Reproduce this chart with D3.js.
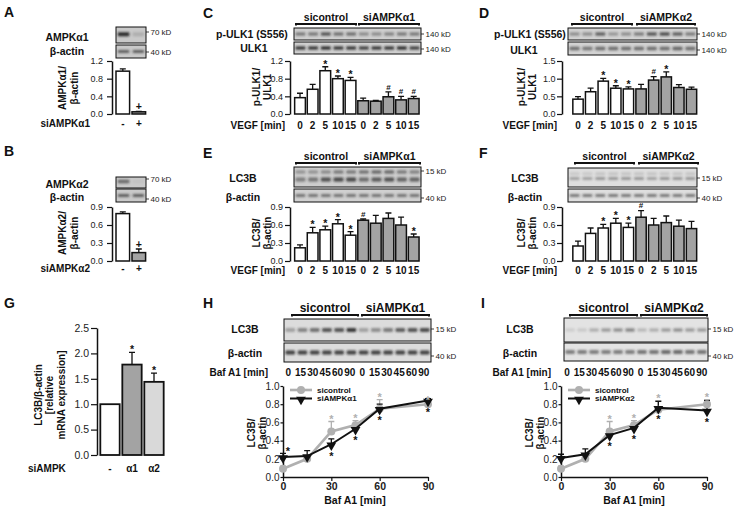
<!DOCTYPE html>
<html><head><meta charset="utf-8">
<script src="https://cdn.jsdelivr.net/npm/d3@7"></script>
<style>
body{margin:0;background:#fff}
svg{font-family:"Liberation Sans",Arial,Helvetica,sans-serif;display:block}
</style></head><body>
<svg id="c" width="740" height="508"></svg>
<script>
// ---------------- data ----------------
const vegfLanes = ["0","2","5","10","15","0","2","5","10","15"];
const bafLanes  = ["0","15","30","45","60","90","0","15","30","45","60","90"];
const aCats = ["-","+"], aVals = [0.97,0.05], aErr = [0.05,0.01], aMarks = ["","+"];
const bCats = ["-","+"], bVals = [0.79,0.14], bErr = [0.03,0.06], bMarks = ["","+"];
const cVals = [0.37,0.56,0.98,0.80,0.76,0.30,0.29,0.39,0.32,0.35];
const cErr  = [0.10,0.11,0.09,0.06,0.07,0.06,0.02,0.11,0.08,0.05];
const cMarks= ["","","*","*","*","","","#","#","#"];
const dVals = [0.42,0.63,0.93,0.73,0.71,0.71,0.96,1.05,0.75,0.70];
const dErr  = [0.07,0.10,0.08,0.07,0.06,0.13,0.10,0.14,0.08,0.06];
const dMarks= ["","","*","*","*","","#","*","",""];
const eVals = [0.22,0.47,0.52,0.62,0.43,0.68,0.63,0.71,0.60,0.40];
const eErr  = [0.05,0.09,0.06,0.07,0.06,0.02,0.13,0.09,0.13,0.05];
const eMarks= ["","*","*","*","*","#","","","","*"];
const fVals = [0.25,0.46,0.55,0.63,0.56,0.73,0.60,0.64,0.58,0.54];
const fErr  = [0.08,0.09,0.06,0.08,0.07,0.11,0.11,0.11,0.10,0.12];
const fMarks= ["","","*","*","*","#","","","",""];
const gCats = ["-","α1","α2"], gVals = [1.0,1.78,1.44], gErr = [0,0.24,0.17], gMarks = ["","*","*"];
const bafTimes = [0,15,30,45,60,90];
const hCtrl = [0.09,0.20,0.50,0.57,0.75,0.80], hCtrlErr = [0.03,0.03,0.11,0.05,0.10,0.02];
const hKd   = [0.22,0.23,0.36,0.53,0.75,0.84], hKdErr   = [0.04,0.06,0.06,0.03,0.05,0.02];
const hCtrlStars = ["","","up","up","up","up"], hKdStars = ["up","","down","down","down","down"];
const iCtrl = [0.09,0.20,0.50,0.57,0.74,0.80], iCtrlErr = [0.03,0.03,0.11,0.05,0.10,0.05];
const iKd   = [0.21,0.25,0.46,0.54,0.76,0.73], iKdErr   = [0.04,0.06,0.04,0.05,0.07,0.11];
const iCtrlStars = ["","","up","up","up","up"], iKdStars = ["","","down","down","down","down"];
// blot band intensities (per lane)
const aBand1 = [0.9,0.15], aBand2 = [0.6,0.6];
const bBand1 = [0.55,0.04], bBand2 = [0.6,0.6];
const cBand1 = [0.45,0.45,0.65,0.5,0.5,0.35,0.35,0.4,0.45,0.45];
const cBand2 = [0.8,0.8,0.85,0.8,0.8,0.75,0.8,0.8,0.85,0.75];
const dBand1 = [0.35,0.35,0.6,0.3,0.35,0.45,0.65,0.7,0.6,0.45];
const dBand2 = [0.55,0.5,0.55,0.55,0.55,0.55,0.55,0.55,0.6,0.55];
const eBandI = [0.35,0.35,0.4,0.5,0.5,0.55,0.6,0.6,0.5,0.45];
const eBandII= [0.45,0.5,0.7,0.75,0.75,0.55,0.65,0.7,0.6,0.6];
const eBand2 = [0.5,0.5,0.5,0.5,0.5,0.5,0.5,0.5,0.5,0.5];
const fBandI = [0.12,0.12,0.15,0.15,0.15,0.15,0.15,0.15,0.15,0.15];
const fBandII= [0.3,0.3,0.35,0.35,0.35,0.35,0.3,0.35,0.35,0.35];
const fBand2 = [0.5,0.5,0.5,0.5,0.5,0.5,0.5,0.5,0.5,0.5];
const hBand1 = [0.3,0.45,0.55,0.7,0.7,0.85,0.3,0.4,0.5,0.65,0.7,0.75];
const hBand2 = [0.8,0.8,0.8,0.8,0.8,0.8,0.8,0.8,0.8,0.8,0.8,0.8];
const iBand1 = [0.1,0.12,0.25,0.35,0.4,0.45,0.2,0.25,0.35,0.4,0.35,0.35];
const iBand2 = [0.5,0.5,0.5,0.5,0.5,0.5,0.55,0.55,0.6,0.6,0.55,0.55];

// ---------------- helpers ----------------
const FONT = '"Liberation Sans", Arial, Helvetica, sans-serif';
const GREY = "#a3a3a3", LGREY = "#d9d9d9", LINEGREY = "#b0b0b0";
const svg = d3.select("#c");
svg.append("filter").attr("id","blur").attr("x","-50%").attr("y","-100%").attr("width","200%").attr("height","300%")
  .append("feGaussianBlur").attr("stdDeviation","0.9");

function txt(t,x,y,o={}){
  return svg.append("text").attr("x",x).attr("y",y)
    .attr("font-size",o.fs||10.5).attr("font-weight",o.w||"bold")
    .attr("text-anchor",o.a||"middle").attr("fill",o.fill||"#111")
    .attr("dominant-baseline",o.db||"auto").text(t);
}
function letter(t,x,y){ txt(t,x,y,{fs:14,a:"start"}); }
function vtext(lines,xs,yc,fs){
  lines.forEach((l,i)=>{
    svg.append("text").attr("transform",`translate(${xs[i]},${yc}) rotate(-90)`)
      .attr("text-anchor","middle").attr("dominant-baseline","central")
      .attr("font-size",fs||10).attr("font-weight","bold").attr("fill","#111").text(l);
  });
}
function blot(x0,x1,y0,y1,bg,rows){
  const g = svg.append("g");
  g.append("rect").attr("x",x0).attr("y",y0).attr("width",x1-x0).attr("height",y1-y0)
    .attr("fill",bg).attr("stroke","#111").attr("stroke-width",1);
  rows.forEach(r=>{
    const xb = d3.scaleBand().domain(d3.range(r.vals.length)).range([x0,x1]).paddingInner(0.22).paddingOuter(0.12);
    g.selectAll(null).data(r.vals).join("rect")
      .attr("x",(d,i)=>xb(i)).attr("width",xb.bandwidth())
      .attr("y",y0+(y1-y0)*r.cy-r.h/2).attr("height",r.h).attr("rx",1.2)
      .attr("fill","#1a1a1a").attr("opacity",d=>d).attr("filter","url(#blur)");
  });
}
function kd(x,y,t){
  svg.append("line").attr("x1",x).attr("x2",x+3).attr("y1",y).attr("y2",y).attr("stroke","#111").attr("stroke-width",0.8);
  txt(t,x+4.5,y,{fs:8,w:"normal",a:"start",db:"central",fill:"#222"});
}
function groups(xa0,xa1,xb0,xb1,yl,ta,tb,fs){
  [[xa0,xa1,ta],[xb0,xb1,tb]].forEach(([a,b,t])=>{
    svg.append("path").attr("d",`M${a},${yl+1.5}V${yl}H${b}V${yl+1.5}`).attr("fill","none").attr("stroke","#111").attr("stroke-width",2);
    txt(t,(a+b)/2,yl-3.5,{fs:fs||10.5});
  });
}
const markK = {"*":0.57,"#":0.36,"+":0.34};
function mark(t,x,cy,fs,fill){
  txt(t,x,cy+markK[t]*fs,{fs:fs,fill:fill||"#111"});
}
function styleAxis(ax,fs,w){
  ax.attr("font-family",FONT);
  ax.select(".domain").attr("stroke","#111").attr("stroke-width",1.5);
  ax.selectAll(".tick line").attr("stroke","#111").attr("stroke-width",1.2);
  ax.selectAll(".tick text").attr("font-size",fs).attr("fill","#222").attr("font-weight",w||"normal");
}
function barChart(o){
  const y = d3.scaleLinear().domain([0,o.max]).range([o.y0,o.y1]);
  const x = d3.scaleBand().domain(d3.range(o.vals.length)).range([o.bx0,o.bx1]).paddingInner(o.pad).paddingOuter(o.pad/2);
  const g = svg.append("g");
  const ax = g.append("g").attr("transform",`translate(${o.ax},0)`)
    .call(d3.axisLeft(y).tickValues(o.ticks).tickFormat(d3.format(".1f")).tickSize(o.ts).tickSizeOuter(0).tickPadding(o.tp));
  styleAxis(ax,o.fs||9);
  g.selectAll(".err").data(o.vals).join("path").attr("class","err")
    .attr("d",(d,i)=>{ if(!o.errs[i]) return null; const cx=x(i)+x.bandwidth()/2, t=y(d+o.errs[i]);
      return `M${cx},${y(d)}V${t}M${cx-3},${t}H${cx+3}`; })
    .attr("fill","none").attr("stroke","#111").attr("stroke-width",1.3);
  g.selectAll(".bar").data(o.vals).join("rect").attr("class","bar")
    .attr("x",(d,i)=>x(i)).attr("width",x.bandwidth())
    .attr("y",d=>y(d)).attr("height",d=>o.y0-y(d))
    .attr("fill",(d,i)=>o.colors[i]).attr("stroke","#111").attr("stroke-width",o.sw||1.5);
  o.marks.forEach((m,i)=>{ if(m) mark(m,x(i)+x.bandwidth()/2,y(o.vals[i]+o.errs[i])-5,m==="#"?8:10.5); });
  o.cats.forEach((c,i)=>txt(c,x(i)+x.bandwidth()/2,o.catY,{fs:10}));
  return {x,y};
}
function lineChart(o){
  const x = d3.scaleLinear().domain([0,90]).range([o.x0,o.x1]);
  const y = d3.scaleLinear().domain([0,1]).range([o.y0,o.y1]);
  const g = svg.append("g");
  const ay = g.append("g").attr("transform",`translate(${o.x0},0)`)
    .call(d3.axisLeft(y).tickValues([0,0.2,0.4,0.6,0.8,1.0]).tickFormat(d3.format(".1f")).tickSize(2.5).tickSizeOuter(0).tickPadding(1));
  styleAxis(ay,10);
  const axx = g.append("g").attr("transform",`translate(0,${o.y0})`)
    .call(d3.axisBottom(x).tickValues([0,30,60,90]).tickSize(4).tickSizeOuter(0).tickPadding(2));
  styleAxis(axx,10.5,"bold");
  const series = [
    {v:o.ctrl,e:o.ctrlErr,c:LINEGREY,w:2.6,stars:o.ctrlStars,kind:"circle"},
    {v:o.kd,e:o.kdErr,c:"#111",w:2,stars:o.kdStars,kind:"tri"}
  ];
  series.forEach(s=>{
    g.selectAll(null).data(s.v).join("path")
      .attr("d",(d,i)=>{ const cx=x(bafTimes[i]), t=y(d+s.e[i]); return `M${cx},${y(d)}V${t}M${cx-3},${t}H${cx+3}`; })
      .attr("fill","none").attr("stroke",s.c).attr("stroke-width",1.3);
  });
  series.forEach(s=>{
    const line = d3.line().x((d,i)=>x(bafTimes[i])).y(d=>y(d));
    g.append("path").datum(s.v).attr("d",line).attr("fill","none").attr("stroke",s.c).attr("stroke-width",s.w);
    if(s.kind==="circle"){
      g.selectAll(null).data(s.v).join("circle").attr("cx",(d,i)=>x(bafTimes[i])).attr("cy",d=>y(d)).attr("r",4).attr("fill",s.c);
    } else {
      const sym = d3.symbol(d3.symbolTriangle,42);
      g.selectAll(null).data(s.v).join("path").attr("d",sym)
        .attr("transform",(d,i)=>`translate(${x(bafTimes[i])},${y(d)+1}) rotate(180)`).attr("fill",s.c);
    }
  });
  series.forEach(s=>{
    s.stars.forEach((st,i)=>{
      if(st==="up") mark("*",x(bafTimes[i])+(s.kind==="tri"?5:0),y(s.v[i]+s.e[i])-5,11,s.kind==="tri"?"#111":LINEGREY);
      if(st==="down") mark("*",x(bafTimes[i]),y(s.v[i])+9,11,"#111");
    });
  });
  // legend
  const L = [{t:"sicontrol",c:LINEGREY,w:2.6,k:"circle",yy:o.ly},{t:o.kdName,c:"#111",w:2,k:"tri",yy:o.ly+8.5}];
  L.forEach(l=>{
    g.append("line").attr("x1",o.lx).attr("x2",o.lx+22).attr("y1",l.yy).attr("y2",l.yy).attr("stroke",l.c).attr("stroke-width",l.w);
    if(l.k==="circle") g.append("circle").attr("cx",o.lx+11).attr("cy",l.yy).attr("r",4).attr("fill",l.c);
    else g.append("path").attr("d",d3.symbol(d3.symbolTriangle,42)).attr("transform",`translate(${o.lx+11},${l.yy+1}) rotate(180)`).attr("fill",l.c);
    txt(l.t,o.lx+27,l.yy+2.9,{a:"start",fs:8});
  });
}
const twoCol = (n,k,a,b)=>d3.range(n).map(i=>i<k?a:b);

// ---------------- Panel A ----------------
letter("A",4,17);
blot(116,146,27,43,"#c9c9c9",[{vals:aBand1,cy:0.45,h:4}]);
blot(116,146,45,58,"#c9c9c9",[{vals:aBand2,cy:0.5,h:3}]);
kd(146,32,"70 kD"); kd(146,52,"40 kD");
txt("AMPKα1",67,41); txt("β-actin",67,55);
vtext(["AMPKα1/","β-actin"],[62,74],88);
barChart({ax:112,y0:114,y1:61,max:1.2,ticks:[0,0.4,0.8,1.2],ts:5,tp:4,bx0:114.8,bx1:146.8,pad:0.15,
  vals:aVals,errs:aErr,marks:aMarks,colors:["#fff",GREY],cats:aCats,catY:127});
txt("siAMPKα1",90,127,{a:"end",fs:10});

// ---------------- Panel B ----------------
letter("B",4,156);
blot(116,146,177,188,"#c9c9c9",[{vals:bBand1,cy:0.4,h:3.5}]);
blot(116,146,189,202,"#c9c9c9",[{vals:bBand2,cy:0.5,h:3}]);
kd(146,179,"70 kD"); kd(146,199,"40 kD");
txt("AMPKα2",67,188); txt("β-actin",67,201);
vtext(["AMPKα2/","β-actin"],[62,74],233);
barChart({ax:112,y0:261,y1:207,max:0.9,ticks:[0,0.3,0.6,0.9],ts:5,tp:4,bx0:114.8,bx1:146.8,pad:0.15,
  vals:bVals,errs:bErr,marks:bMarks,colors:["#fff",GREY],cats:bCats,catY:272});
txt("siAMPKα2",90,272,{a:"end",fs:10});

// ---------------- Panel C ----------------
letter("C",203,18);
groups(296,356,359,419,24,"sicontrol","siAMPKα1");
blot(294,421,28,40,"#cfcfcf",[{vals:cBand1,cy:0.5,h:3.5}]);
blot(294,421,42,54,"#cfcfcf",[{vals:cBand2,cy:0.5,h:3.5}]);
kd(421,34,"140 kD"); kd(421,49,"140 kD");
txt("p-ULK1 (S556)",252,38); txt("ULK1",254,52);
vtext(["p-ULK1/","ULK1"],[256,267],87);
barChart({ax:290,y0:114,y1:61,max:1.2,ticks:[0,0.4,0.8,1.2],ts:5,tp:2,bx0:293.7,bx1:420,pad:0.15,
  vals:cVals,errs:cErr,marks:cMarks,colors:twoCol(10,5,"#fff",GREY),cats:vegfLanes,catY:129});
txt("VEGF [min]",285,129,{a:"end",fs:10});

// ---------------- Panel D ----------------
letter("D",479,18);
groups(572,632,637,695,24,"sicontrol","siAMPKα2");
blot(568,697,28,40,"#d2d2d2",[{vals:dBand1,cy:0.5,h:3.5}]);
blot(568,697,42,55,"#d2d2d2",[{vals:dBand2,cy:0.5,h:3.5}]);
kd(697,34,"140 kD"); kd(697,50,"140 kD");
txt("p-ULK1 (S556)",530,38); txt("ULK1",524,54);
vtext(["p-ULK1/","ULK1"],[521,532],87);
barChart({ax:562,y0:114,y1:61,max:1.5,ticks:[0,0.5,1.0,1.5],ts:5,tp:1.5,bx0:571.7,bx1:697.8,pad:0.18,
  vals:dVals,errs:dErr,marks:dMarks,colors:twoCol(10,5,"#fff",GREY),cats:vegfLanes,catY:129});
txt("VEGF [min]",557,129,{a:"end",fs:10});

// ---------------- Panel E ----------------
letter("E",203,158);
groups(296,356,359,420,163,"sicontrol","siAMPKα1");
blot(294,421,167,187,"#cdcdcd",[{vals:eBandI,cy:0.25,h:3},{vals:eBandII,cy:0.62,h:4}]);
blot(294,421,189,202,"#d0d0d0",[{vals:eBand2,cy:0.5,h:3}]);
kd(421,171,"15 kD"); kd(421,198,"40 kD");
txt("LC3B",243,182); txt("β-actin",243,201);
vtext(["LC3B/","β-actin"],[256,267],233);
barChart({ax:290,y0:261,y1:207,max:0.9,ticks:[0,0.3,0.6,0.9],ts:5,tp:2,bx0:293.7,bx1:420,pad:0.15,
  vals:eVals,errs:eErr,marks:eMarks,colors:twoCol(10,5,"#fff",GREY),cats:vegfLanes,catY:274});
txt("VEGF [min]",285,274,{a:"end",fs:10});

// ---------------- Panel F ----------------
letter("F",479,158);
groups(575,634,639,698,163,"sicontrol","siAMPKα2");
blot(568,697,168,187,"#dedede",[{vals:fBandI,cy:0.3,h:2.5},{vals:fBandII,cy:0.55,h:3}]);
blot(568,697,189,202,"#dedede",[{vals:fBand2,cy:0.5,h:3}]);
kd(697,178,"15 kD"); kd(697,198,"40 kD");
txt("LC3B",525,182); txt("β-actin",525,201);
vtext(["LC3B/","β-actin"],[521,532],233);
barChart({ax:562,y0:261,y1:207,max:0.9,ticks:[0,0.3,0.6,0.9],ts:5,tp:1.5,bx0:571.7,bx1:697.8,pad:0.18,
  vals:fVals,errs:fErr,marks:fMarks,colors:twoCol(10,5,"#fff",GREY),cats:vegfLanes,catY:274});
txt("VEGF [min]",557,274,{a:"end",fs:10});

// ---------------- Panel G ----------------
letter("G",4,308);
vtext(["LC3B/β-actin","[relative","mRNA expression]"],[38,49.5,61],395,10);
barChart({ax:97,y0:455,y1:328,max:2.5,ticks:[0,0.5,1.0,1.5,2.0,2.5],ts:6,tp:2,bx0:99,bx1:165,pad:0.12,sw:1.8,fs:10.5,
  vals:gVals,errs:gErr,marks:gMarks,colors:["#fff",GREY,LGREY],cats:gCats,catY:472});
txt("siAMPK",28,472,{a:"start",fs:10});

// ---------------- Panel H ----------------
letter("H",203,308);
groups(292,358,362,429,315,"sicontrol","siAMPKα1",12);
blot(284,431,319,341,"#dcdcdc",[{vals:hBand1,cy:0.5,h:4}]);
blot(284,431,343,362,"#dcdcdc",[{vals:hBand2,cy:0.5,h:4}]);
kd(431,329,"15 kD"); kd(431,356,"40 kD");
txt("LC3B",245,333); txt("β-actin",245,357);
{
  const lx = d3.scaleBand().domain(d3.range(12)).range([282,430]);
  bafLanes.forEach((l,i)=>txt(l,lx(i)+lx.bandwidth()/2,376,{fs:10}));
}
txt("Baf A1 [min]",268,376,{a:"end",fs:10});
vtext(["LC3B/","β-actin"],[251,262],433);
lineChart({x0:283,x1:428,y0:477,y1:386,ctrl:hCtrl,ctrlErr:hCtrlErr,kd:hKd,kdErr:hKdErr,
  ctrlStars:hCtrlStars,kdStars:hKdStars,kdName:"siAMPKα1",lx:290,ly:390});
txt("Baf A1 [min]",355,504);

// ---------------- Panel I ----------------
letter("I",481,308);
groups(570,637,641,707,315,"sicontrol","siAMPKα2",12);
blot(564,708,318,342,"#e3e3e3",[{vals:iBand1,cy:0.5,h:3.5}]);
blot(564,708,343,361,"#e3e3e3",[{vals:iBand2,cy:0.5,h:4}]);
kd(708,329,"15 kD"); kd(708,356,"40 kD");
txt("LC3B",520,333); txt("β-actin",520,357);
{
  const lx = d3.scaleBand().domain(d3.range(12)).range([561,708]);
  bafLanes.forEach((l,i)=>txt(l,lx(i)+lx.bandwidth()/2,376,{fs:10}));
}
txt("Baf A1 [min]",551,376,{a:"end",fs:10});
vtext(["LC3B/","β-actin"],[529,540],433);
lineChart({x0:561,x1:707,y0:477,y1:386,ctrl:iCtrl,ctrlErr:iCtrlErr,kd:iKd,kdErr:iKdErr,
  ctrlStars:iCtrlStars,kdStars:iKdStars,kdName:"siAMPKα2",lx:568,ly:390});
txt("Baf A1 [min]",634,504);
</script>
</body></html>
